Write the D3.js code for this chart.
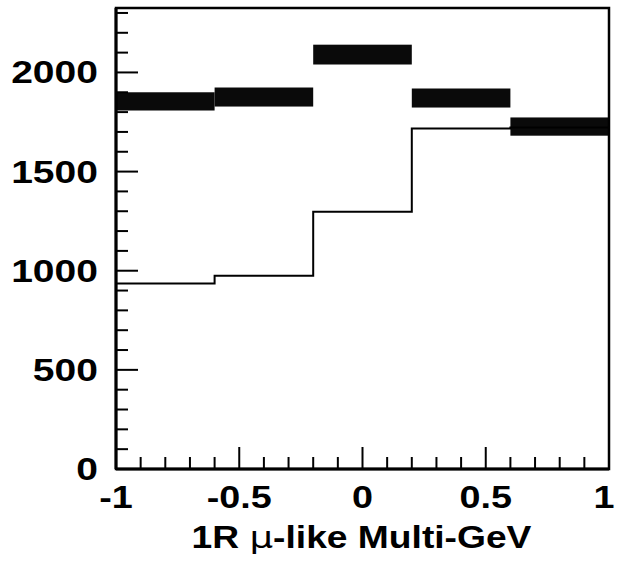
<!DOCTYPE html>
<html>
<head>
<meta charset="utf-8">
<script src="https://cdn.jsdelivr.net/npm/d3@7"></script>
<style>
  html, body { margin: 0; padding: 0; background: #fff; }
  svg { display: block; }
  text { font-family: "Liberation Sans", Arial, Helvetica, sans-serif; font-weight: bold; fill: #000; }
</style>
</head>
<body>
<svg id="chart" width="618" height="561"></svg>
<script>
// Bin edges in cos(zenith)
const binEdges = [-1, -0.6, -0.2, 0.2, 0.6, 1];
// Expected (no-oscillation) prediction, drawn as a step line
const mcCounts = [935, 975, 1298, 1717, 1722];
// Observed data and their uncertainties, drawn as filled boxes
const dataCounts = [1854, 1876, 2090, 1871, 1727];
const dataErrors = [46, 48, 50, 48, 46];
// Axis labels
const xTickLabels = [-1, -0.5, 0, 0.5, 1];
const yTickLabels = [0, 500, 1000, 1500, 2000];
const xTitle = ["1R ", "\u03bc", "-like Multi-GeV"];

const svg = d3.select("#chart");
const plotL = 116, plotR = 609, plotT = 8, plotB = 469;

const x = d3.scaleLinear().domain([-1, 1]).range([plotL, plotR]);
const y = d3.scaleLinear().domain([0, 2325]).range([plotB, plotT]);

// Data boxes (value +/- error across full bin width)
svg.append("g").selectAll("rect")
  .data(dataCounts)
  .join("rect")
  .attr("x", (d, i) => x(binEdges[i]))
  .attr("width", (d, i) => x(binEdges[i + 1]) - x(binEdges[i]))
  .attr("y", (d, i) => y(d + dataErrors[i]))
  .attr("height", (d, i) => y(d - dataErrors[i]) - y(d + dataErrors[i]))
  .attr("fill", "#0a0a0a");

// Prediction histogram as a step line
const stepPts = mcCounts.map((v, i) => [binEdges[i], v]);
stepPts.push([binEdges[binEdges.length - 1], mcCounts[mcCounts.length - 1]]);
svg.append("path")
  .datum(stepPts)
  .attr("d", d3.line().x(d => x(d[0])).y(d => y(d[1])).curve(d3.curveStepAfter))
  .attr("fill", "none")
  .attr("stroke", "#000")
  .attr("stroke-width", 2);

// Frame
svg.append("rect")
  .attr("x", plotL).attr("y", plotT)
  .attr("width", plotR - plotL).attr("height", plotB - plotT)
  .attr("fill", "none").attr("stroke", "#000").attr("stroke-width", 2.5);

// Inward ticks: minor and major
const yMinor = d3.range(0, 2301, 100);
svg.append("g").selectAll("line")
  .data(yMinor)
  .join("line")
  .attr("x1", plotL).attr("x2", d => plotL + (d % 500 === 0 ? 22 : 12))
  .attr("y1", d => y(d)).attr("y2", d => y(d))
  .attr("stroke", "#000").attr("stroke-width", 2);

const xMinor = d3.range(-10, 11).map(k => k / 10);
svg.append("g").selectAll("line")
  .data(xMinor)
  .join("line")
  .attr("x1", d => x(d)).attr("x2", d => x(d))
  .attr("y1", plotB)
  .attr("y2", d => plotB - (Math.abs(Math.round(d * 10)) % 5 === 0 ? 22 : 12))
  .attr("stroke", "#000").attr("stroke-width", 2);

// Thicker left and bottom axis lines
svg.append("line")
  .attr("x1", plotL).attr("x2", plotL).attr("y1", plotT).attr("y2", plotB)
  .attr("stroke", "#000").attr("stroke-width", 3);
svg.append("line")
  .attr("x1", plotL).attr("x2", plotR).attr("y1", plotB).attr("y2", plotB)
  .attr("stroke", "#000").attr("stroke-width", 3);

// Y tick labels
svg.append("g").selectAll("g")
  .data(yTickLabels)
  .join("g")
  .attr("transform", d => `translate(98,${y(d) + 11}) scale(1.22,1)`)
  .append("text")
  .attr("text-anchor", "end")
  .attr("font-size", 32)
  .text(d => d);

// X tick labels (last one kept inside the page edge)
svg.append("g").selectAll("g")
  .data(xTickLabels)
  .join("g")
  .attr("transform", d => `translate(${Math.min(x(d), 604)},508) scale(1.18,1)`)
  .append("text")
  .attr("text-anchor", "middle")
  .attr("font-size", 32)
  .text(d => d);

// X axis title
const title = svg.append("g")
  .attr("transform", `translate(${(plotL + plotR) / 2 - 1},548) scale(1.2,1)`)
  .append("text")
  .attr("text-anchor", "middle")
  .attr("font-size", 31);
title.append("tspan").text(xTitle[0]);
title.append("tspan").attr("font-weight", "normal").attr("font-family", "DejaVu Sans").text(xTitle[1]);
title.append("tspan").text(xTitle[2]);
</script>
</body>
</html>
